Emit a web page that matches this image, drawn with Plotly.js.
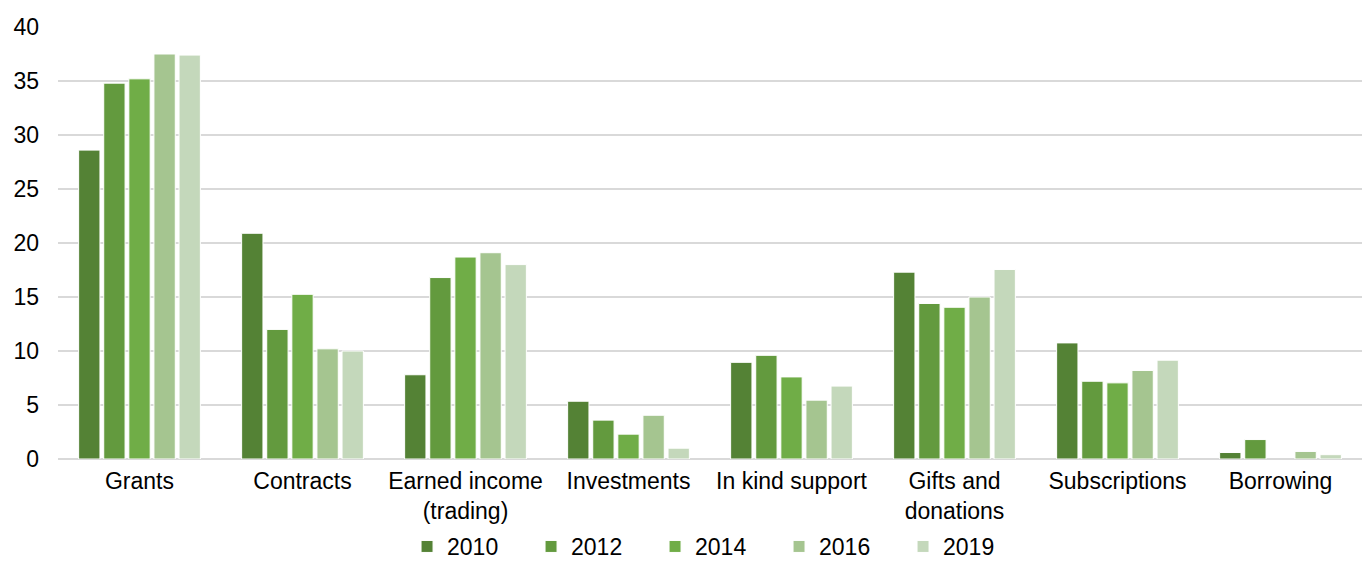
<!DOCTYPE html>
<html><head><meta charset="utf-8">
<script src="https://cdn.plot.ly/plotly-3.0.1.min.js"></script>
<style>html,body{margin:0;padding:0;background:#fff}#c{width:1367px;height:568px}</style>
</head><body><div id="c"></div>
<script>
const categories = ["Grants","Contracts","Earned income<br>(trading)","Investments","In kind support","Gifts and<br>donations","Subscriptions","Borrowing"];
const years = ["2010","2012","2014","2016","2019"];
const v2010 = [28.6,20.9,7.8,5.35,8.95,17.3,10.75,0.6];
const v2012 = [34.8,12.0,16.8,3.6,9.6,14.4,7.2,1.8];
const v2014 = [35.2,15.25,18.7,2.3,7.6,14.05,7.05,null];
const v2016 = [37.5,10.2,19.1,4.05,5.45,15.0,8.2,0.7];
const v2019 = [37.4,10.0,18.0,1.0,6.75,17.55,9.15,0.4];
const colors = ["#548235","#639A3E","#70AD47","#A5C590","#C4D8BB"];
const series = [v2010,v2012,v2014,v2016,v2019];
const traces = series.map((s,i)=>({
  type:'bar', name: years[i], x: categories, y: s,
  marker:{color: colors[i], line:{color:'#ffffff', width:1}},
  hoverinfo:'x+y+name'
}));
const layout = {
  width:1367, height:568,
  margin:{l:58,r:5,t:27,b:109},
  paper_bgcolor:'#fff', plot_bgcolor:'#fff',
  font:{family:'Liberation Sans, Arial, sans-serif', size:23, color:'#000'},
  barmode:'group', bargap:0.23, bargroupgap:0.15,
  xaxis:{showgrid:false, zeroline:false, showline:false, ticks:'', tickfont:{size:23}, automargin:false, ticklabelstandoff:6},
  yaxis:{range:[0,40], dtick:5, showgrid:true, gridcolor:'#d9d9d9', gridwidth:2,
         zeroline:true, zerolinecolor:'#d9d9d9', zerolinewidth:2,
         tickfont:{size:23}, ticks:'', ticklen:0, automargin:false, ticklabelstandoff:18},
  showlegend:true,
  legend:{orientation:'h', x:0.5054, xanchor:'center', xref:'paper', yref:'container', y:0, yanchor:'bottom',
          font:{size:23}, entrywidth:79, entrywidthmode:'pixels', itemwidth:30, traceorder:'normal'}
};
Plotly.newPlot('c', traces, layout, {displayModeBar:false, staticPlot:true});
</script></body></html>
